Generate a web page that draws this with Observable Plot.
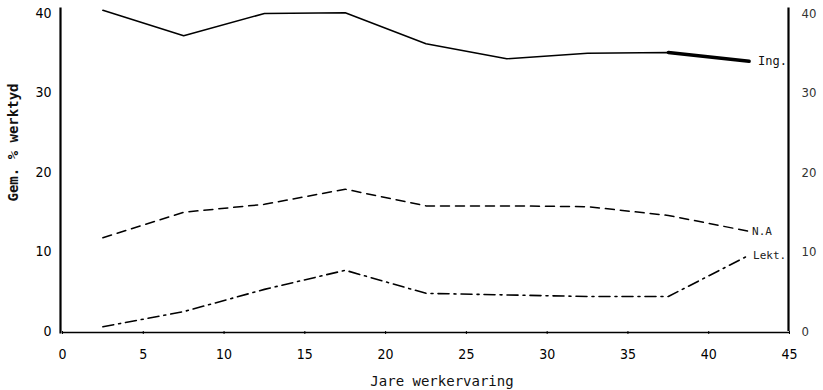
<!DOCTYPE html>
<html><head><meta charset="utf-8">
<script src="https://cdn.jsdelivr.net/npm/d3@7"></script>
<script src="https://cdn.jsdelivr.net/npm/@observablehq/plot@0.6"></script>
<style>
body{margin:0;background:#fff;}
#c{position:relative;width:823px;height:390px;}
</style></head><body><div id="c"></div>
<script>
const years = [2.5, 7.5, 12.5, 17.5, 22.5, 27.5, 32.5, 37.5, 42.5];
const ing   = [40.4, 37.2, 40.0, 40.1, 36.2, 34.3, 35.0, 35.1, 34.0];
const na    = [11.8, 15.0, 16.0, 17.9, 15.8, 15.8, 15.7, 14.6, 12.6];
const lekt  = [0.6, 2.5, 5.3, 7.7, 4.8, 4.6, 4.4, 4.4, 9.6];
const xTicks = [0, 5, 10, 15, 20, 25, 30, 35, 40, 45];
const yTicks = [0, 10, 20, 30, 40];
const seriesNames = ["Ing.", "N.A", "Lekt."];
const xTitle = "Jare werkervaring";
const yTitle = "Gem. % werktyd";

const rows = (vals) => years.map((x, i) => ({x, y: vals[i]}));
const ingRows = rows(ing), naRows = rows(na), lektRows = rows(lekt);
const last = years.length - 1;
const font = "'DejaVu Sans Mono', monospace";

const chart = Plot.plot({
  width: 823, height: 390,
  marginLeft: 62, marginRight: 34, marginTop: 13, marginBottom: 59,
  style: {fontFamily: "'DejaVu Sans Condensed', 'DejaVu Sans', sans-serif", fontSize: "14px", color: "#000", background: "#fff"},
  x: {domain: [0, 45]},
  y: {domain: [0, 40]},
  marks: [
    Plot.ruleX([0], {y1: -0.3, y2: 40.7, stroke: "#000", strokeWidth: 2.2, dx: -2}),
    Plot.ruleX([45], {y1: 0, y2: 40.7, stroke: "#000", strokeWidth: 2.2, dx: -1}),
    Plot.ruleY([0], {x1: 0, x2: 45, stroke: "#000", strokeWidth: 1.5, dy: 1}),
    Plot.axisX({ticks: xTicks, tickSize: 3, tickPadding: 15, label: null, fontSize: 14, tickFormat: d => d}),
    Plot.axisY({ticks: yTicks, tickSize: 0, tickPadding: 11, label: null, fontSize: 14, anchor: "left"}),
    Plot.axisY({ticks: yTicks, tickSize: 0, tickPadding: 12, label: null, fontSize: 13, anchor: "right", fill: "#333"}),
    Plot.line(ingRows, {x: "x", y: "y", stroke: "#000", strokeWidth: 1.5}),
    Plot.line(ingRows.slice(7), {x: "x", y: "y", stroke: "#000", strokeWidth: 3.5}),
    Plot.line(naRows, {x: "x", y: "y", stroke: "#000", strokeWidth: 1.5, strokeDasharray: "9,6"}),
    Plot.line(lektRows, {x: "x", y: "y", stroke: "#000", strokeWidth: 1.6, strokeDasharray: "11,5,2,5"}),
    Plot.text([{x: years[last], y: ing[last], t: seriesNames[0]}], {x: "x", y: "y", text: "t", dx: 9, textAnchor: "start", fontFamily: font, fontSize: 12, fill: "#111"}),
    Plot.text([{x: years[last], y: na[last], t: seriesNames[1]}], {x: "x", y: "y", text: "t", dx: 3, dy: 0, textAnchor: "start", fontFamily: font, fontSize: 11, fill: "#222"}),
    Plot.text([{x: years[last], y: lekt[last], t: seriesNames[2]}], {x: "x", y: "y", text: "t", dx: 4, textAnchor: "start", fontFamily: font, fontSize: 11, fill: "#222"}),
    Plot.text([yTitle], {frameAnchor: "left", textAnchor: "middle", dx: -49, dy: -30, rotate: -90, fontFamily: font, fontSize: 14, fontWeight: "bold", fill: "#111"}),
    Plot.text([xTitle], {frameAnchor: "bottom", textAnchor: "middle", dy: 54, dx: 16, fontFamily: font, fontSize: 14, fill: "#111"})
  ]
});
document.getElementById("c").appendChild(chart);
</script></body></html>
